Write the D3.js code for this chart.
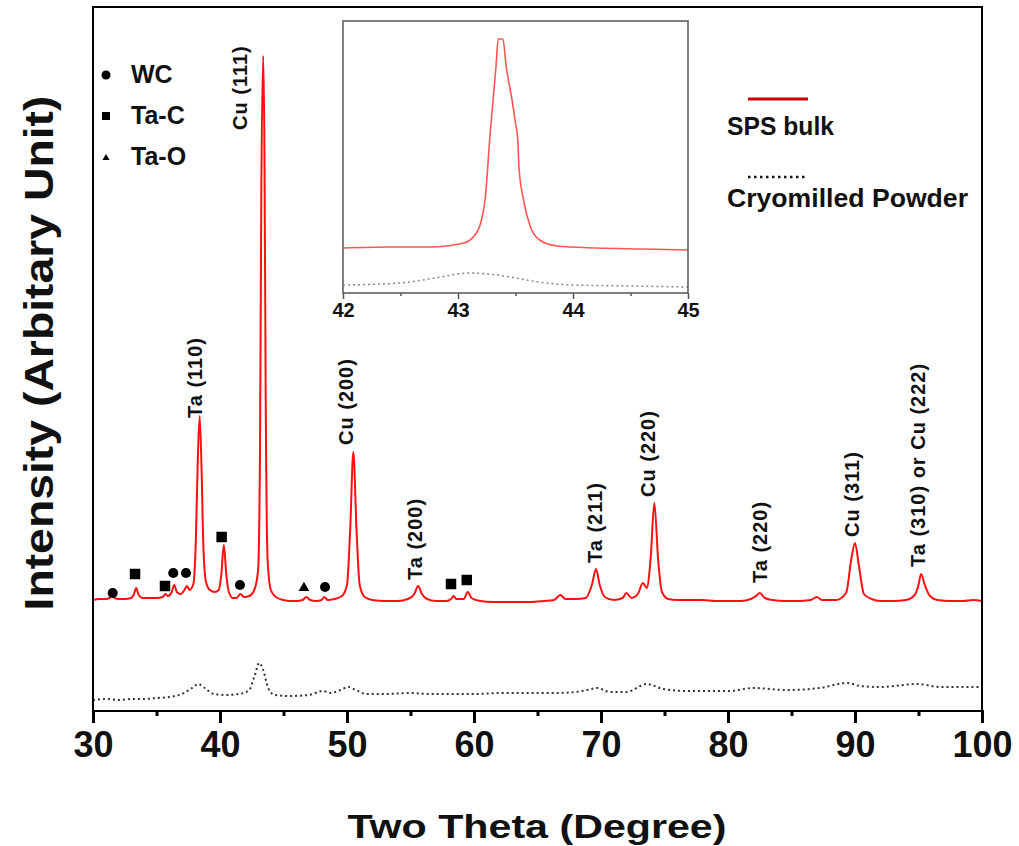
<!DOCTYPE html>
<html lang="en">
<head>
<meta charset="utf-8" />
<script src="https://cdn.jsdelivr.net/npm/d3@7/dist/d3.min.js"></script>
<style>
    body { margin: 0; background: #fff; }
    text { font-family: "Liberation Sans", Arial, sans-serif; font-weight: bold; fill: #111; }
</style>
</head>
<body>
<div id="chart"></div>
<script>
// SPS bulk pattern (red)
var spsTheta = [30.0, 30.5, 31.0, 31.3, 31.5, 31.7, 32.0, 32.5, 33.0, 33.2, 33.4, 33.6, 33.9, 34.5, 35.0, 35.5, 35.7, 35.9,
    36.2, 36.4, 36.6, 36.9, 37.2, 37.4, 37.6, 37.9, 38.1, 38.25, 38.4, 38.55, 38.7, 38.9, 39.2, 39.6, 39.9, 40.1, 40.3, 40.5,
    40.7, 41.0, 41.3, 41.6, 41.9, 42.3, 42.7, 43.0, 43.15, 43.25, 43.4, 43.5, 43.6, 43.75, 44.0, 44.4, 45.0, 45.5, 46.0, 46.5,
    46.8, 47.1, 47.6, 48.0, 48.2, 48.5, 49.0, 49.6, 50.0, 50.25, 50.5, 50.75, 51.0, 51.4, 52.0, 53.0, 54.0, 54.8, 55.3, 55.6,
    55.9, 56.3, 57.0, 57.8, 58.2, 58.4, 58.6, 59.2, 59.5, 59.8, 60.5, 61.5, 62.5, 63.5, 64.5, 65.5, 66.3, 66.8, 67.2, 68.0,
    68.8, 69.3, 69.6, 69.9, 70.3, 71.0, 71.7, 72.0, 72.4, 72.9, 73.3, 73.6, 73.9, 74.2, 74.5, 74.8, 75.3, 76.0, 77.0, 78.0,
    79.0, 80.0, 81.0, 81.8, 82.2, 82.5, 82.9, 83.5, 84.5, 85.5, 86.5, 87.0, 87.4, 88.5, 89.3, 89.7, 90.0, 90.3, 90.7, 91.3,
    92.0, 93.0, 94.0, 94.7, 95.0, 95.2, 95.5, 95.9, 96.5, 97.5, 98.5, 99.3, 100.0];
var spsIntensity = [111, 112, 112, 113, 115, 113, 112, 112, 113, 116, 123, 116, 113, 113, 113, 114, 117, 115,
    119, 126, 119, 117, 121, 125, 121, 127, 171, 251, 295, 241, 161, 129, 121, 119, 121, 136, 166, 136,
    119, 113, 113, 117, 114, 115, 121, 141, 261, 511, 655, 561, 311, 151, 121, 114, 111, 110, 110, 111,
    114, 111, 110, 111, 114, 111, 112, 115, 126, 181, 259, 181, 126, 114, 111, 110, 110, 112, 117, 125,
    117, 112, 110, 110, 112, 115, 112, 112, 119, 113, 110, 109, 109, 109, 109, 110, 111, 116, 112, 112,
    113, 127, 142, 126, 114, 111, 113, 118, 113, 117, 128, 123, 151, 208, 151, 119, 112, 111, 111, 111,
    110, 110, 110, 112, 115, 118, 113, 111, 110, 110, 111, 114, 111, 111, 118, 151, 168, 146, 117, 112,
    110, 110, 111, 116, 126, 137, 126, 115, 111, 110, 110, 111, 110];

// Cryomilled powder pattern (dotted)
var powderTheta = [30, 31, 32, 33, 34, 35, 36, 37, 37.8, 38.3, 38.8, 39.5, 40.5, 41.5, 42.3, 42.7, 43.1, 43.4, 43.8, 44.3,
    45.5, 47, 48.1, 48.7, 49.5, 50.1, 50.7, 51.5, 53, 55, 56.5, 58, 60, 62, 64, 65, 66.5, 68, 68.9, 69.7, 70.7, 72, 73.6,
    74.9, 76.8, 80, 82, 84.6, 87.2, 89.4, 90.4, 92, 94.9, 96.7, 100];
var powderIntensity = [11, 12, 11, 12, 12, 13, 14, 17, 23, 27, 23, 17, 16, 17, 21, 34, 48, 41, 23, 16,
    15, 16, 20, 18, 21, 24, 21, 17, 17, 18, 17, 17, 17, 18, 18, 18, 18, 19, 21, 23, 19, 19, 27,
    22, 20, 20, 23, 21, 23, 28, 25, 24, 27, 24, 24];

// inset: zoom on Cu (111)
var insetSpsTheta = [42.0, 42.4, 42.76, 43.05, 43.16, 43.21, 43.235, 43.28, 43.33, 43.35, 43.39, 43.42, 43.47, 43.5,
    43.52, 43.53, 43.57, 43.63, 43.71, 43.86, 44.2, 44.6, 45.0];
var insetSpsIntensity = [45, 46, 46, 50, 60, 76, 93, 160, 226, 254, 254, 226, 193, 170, 153, 126, 93, 66, 53, 47, 45, 44, 43];
var insetPowderTheta = [42.0, 42.5, 42.8, 43.1, 43.4, 43.7, 44.0, 44.5, 45.0];
var insetPowderIntensity = [8, 10, 15, 20, 17, 11, 8, 7, 6];

var xTicks = [30, 40, 50, 60, 70, 80, 90, 100];
var xMinorTicks = [35, 45, 55, 65, 75, 85, 95];
var insetTicks = [42, 43, 44, 45];
var insetMinorTicks = [42.5, 43.5, 44.5];

// peak annotations
var peakLabels = ["Ta (110)", "Cu (111)", "Cu (200)", "Ta (200)", "Ta (211)", "Cu (220)", "Ta (220)", "Cu (311)", "Ta (310) or Cu (222)"];
var peakTheta = [38.07, 41.57, 49.92, 55.35, 69.53, 73.70, 82.52, 89.76, 94.96];
var peakLevel = [293, 581, 266, 131, 148, 214, 128, 174, 144];

// phase markers
var markerTheta = [31.55, 33.31, 35.67, 36.32, 37.32, 40.13, 41.57, 46.61, 48.27, 58.19, 59.43];
var markerLevel = [118, 137, 125, 138, 138, 174, 126, 123, 124, 127, 131];
var markerShape = ["WC", "Ta-C", "Ta-C", "WC", "WC", "Ta-C", "WC", "Ta-O", "WC", "Ta-C", "Ta-C"];

var phases = ["WC", "Ta-C", "Ta-O"];
var seriesNames = ["SPS bulk", "Cryomilled Powder"];

var width = 1019, height = 846;
var svg = d3.select("#chart").append("svg")
    .attr("width", width)
    .attr("height", height);

var x = d3.scaleLinear().domain([30, 100]).range([93, 982]);
var y = d3.scaleLinear().domain([0, 704]).range([711, 7]);

var symbolFor = { "WC": d3.symbolCircle, "Ta-C": d3.symbolSquare, "Ta-O": d3.symbolTriangle };
var symbolSize = { "WC": 80, "Ta-C": 110, "Ta-O": 50 };

// x axis, major + minor ticks
var xAxis = svg.append("g")
    .attr("transform", "translate(0,710)")
    .call(d3.axisBottom(x).tickValues(xTicks).tickSize(13).tickPadding(8).tickSizeOuter(0));
xAxis.select(".domain").remove();
xAxis.selectAll(".tick line").attr("stroke", "#000").attr("stroke-width", 3);
xAxis.selectAll(".tick text")
    .attr("font-size", 36)
    .attr("font-family", "Liberation Sans, Arial, sans-serif")
    .attr("font-weight", "bold")
    .attr("fill", "#111");

var xMinor = svg.append("g")
    .attr("transform", "translate(0,710)")
    .call(d3.axisBottom(x).tickValues(xMinorTicks).tickSize(6).tickFormat(""));
xMinor.select(".domain").remove();
xMinor.selectAll(".tick line").attr("stroke", "#000").attr("stroke-width", 3);

// lines
var line = d3.line()
    .x(function (d) { return x(d[0]); })
    .y(function (d) { return y(d[1]); })
    .curve(d3.curveMonotoneX);

svg.append("path")
    .datum(powderTheta.map(function (t, i) { return [t, powderIntensity[i]]; }))
    .attr("d", line)
    .attr("fill", "none")
    .attr("stroke", "#333")
    .attr("stroke-width", 2)
    .attr("stroke-dasharray", "2,3");

svg.append("path")
    .datum(spsTheta.map(function (t, i) { return [t, spsIntensity[i]]; }))
    .attr("d", line)
    .attr("fill", "none")
    .attr("stroke", "#ff1010")
    .attr("stroke-width", 2);

// frame
svg.append("rect")
    .attr("x", x(30)).attr("y", y(704))
    .attr("width", x(100) - x(30)).attr("height", y(0) - y(704))
    .attr("fill", "none")
    .attr("stroke", "#000")
    .attr("stroke-width", 2);

// markers on peaks
svg.selectAll(".marker")
    .data(markerTheta)
    .enter()
    .append("path")
    .attr("class", "marker")
    .attr("transform", function (d, i) { return "translate(" + x(d) + "," + y(markerLevel[i]) + ")"; })
    .attr("d", function (d, i) { return d3.symbol().type(symbolFor[markerShape[i]]).size(symbolSize[markerShape[i]])(); })
    .attr("fill", "#000");

// peak labels, rotated
svg.selectAll(".peak")
    .data(peakLabels)
    .enter()
    .append("text")
    .attr("class", "peak")
    .attr("transform", function (d, i) { return "translate(" + (x(peakTheta[i]) + 7) + "," + y(peakLevel[i]) + ") rotate(-90)"; })
    .attr("font-size", 20)
    .attr("letter-spacing", 1)
    .text(function (d) { return d; });

// phase legend (top left)
var phaseLegend = svg.append("g");
phases.forEach(function (p, i) {
    var ly = 75 + i * 41;
    phaseLegend.append("path")
        .attr("transform", "translate(106," + (ly + (p == "Ta-O" ? 1 : 0)) + ")")
        .attr("d", d3.symbol().type(symbolFor[p]).size(p == "Ta-O" ? 22 : 64)())
        .attr("fill", "#000");
    phaseLegend.append("text")
        .attr("x", 131)
        .attr("y", ly + 8)
        .attr("font-size", 25)
        .text(p);
});

// series legend (top right)
var seriesLegend = svg.append("g");
seriesLegend.append("line")
    .attr("x1", 748).attr("x2", 808).attr("y1", 99).attr("y2", 99)
    .attr("stroke", "#cc0000").attr("stroke-width", 3);
seriesLegend.append("text")
    .attr("x", 727).attr("y", 135)
    .attr("font-size", 25)
    .attr("textLength", 107)
    .attr("lengthAdjust", "spacingAndGlyphs")
    .text(seriesNames[0]);
seriesLegend.append("line")
    .attr("x1", 748).attr("x2", 808).attr("y1", 177).attr("y2", 177)
    .attr("stroke", "#111").attr("stroke-width", 2.5).attr("stroke-dasharray", "2.5,3.5");
seriesLegend.append("text")
    .attr("x", 727).attr("y", 207)
    .attr("font-size", 25)
    .attr("textLength", 241)
    .attr("lengthAdjust", "spacingAndGlyphs")
    .text(seriesNames[1]);

// inset
var ix = d3.scaleLinear().domain([42, 45]).range([343, 688]);
var iy = d3.scaleLinear().domain([0, 272]).range([293, 21]);

var inset = svg.append("g");
inset.append("rect")
    .attr("x", ix(42)).attr("y", iy(272))
    .attr("width", ix(45) - ix(42)).attr("height", iy(0) - iy(272))
    .attr("fill", "#fff");

var iline = d3.line()
    .x(function (d) { return ix(d[0]); })
    .y(function (d) { return iy(d[1]); })
    .curve(d3.curveMonotoneX);

inset.append("path")
    .datum(insetPowderTheta.map(function (t, i) { return [t, insetPowderIntensity[i]]; }))
    .attr("d", iline)
    .attr("fill", "none")
    .attr("stroke", "#888")
    .attr("stroke-width", 1.5)
    .attr("stroke-dasharray", "2,3");

inset.append("path")
    .datum(insetSpsTheta.map(function (t, i) { return [t, insetSpsIntensity[i]]; }))
    .attr("d", iline)
    .attr("fill", "none")
    .attr("stroke", "#ff5555")
    .attr("stroke-width", 1.6);

inset.append("rect")
    .attr("x", ix(42)).attr("y", iy(272))
    .attr("width", ix(45) - ix(42)).attr("height", iy(0) - iy(272))
    .attr("fill", "none")
    .attr("stroke", "#555")
    .attr("stroke-width", 1.5);

var iAxis = inset.append("g")
    .attr("transform", "translate(0," + iy(0) + ")")
    .call(d3.axisBottom(ix).tickValues(insetTicks).tickFormat(d3.format("d")).tickSize(6).tickPadding(4).tickSizeOuter(0));
iAxis.select(".domain").remove();
iAxis.selectAll(".tick line").attr("stroke", "#555").attr("stroke-width", 1.5);
iAxis.selectAll(".tick text")
    .attr("font-size", 20)
    .attr("font-family", "Liberation Sans, Arial, sans-serif")
    .attr("font-weight", "bold")
    .attr("fill", "#111");

var iMinor = inset.append("g")
    .attr("transform", "translate(0," + iy(0) + ")")
    .call(d3.axisBottom(ix).tickValues(insetMinorTicks).tickSize(3).tickFormat(""));
iMinor.select(".domain").remove();
iMinor.selectAll(".tick line").attr("stroke", "#555").attr("stroke-width", 1.5);

// axis titles
svg.append("text")
    .attr("x", 537).attr("y", 838)
    .attr("text-anchor", "middle")
    .attr("font-size", 34)
    .attr("textLength", 379)
    .attr("lengthAdjust", "spacingAndGlyphs")
    .text("Two Theta (Degree)");

svg.append("text")
    .attr("transform", "translate(53,353) rotate(-90)")
    .attr("text-anchor", "middle")
    .style("font-family", "'Liberation Sans Narrow', 'Liberation Sans', Arial, sans-serif")
    .attr("font-size", 40)
    .attr("textLength", 515)
    .attr("lengthAdjust", "spacingAndGlyphs")
    .text("Intensity (Arbitary Unit)");
</script>
</body>
</html>
